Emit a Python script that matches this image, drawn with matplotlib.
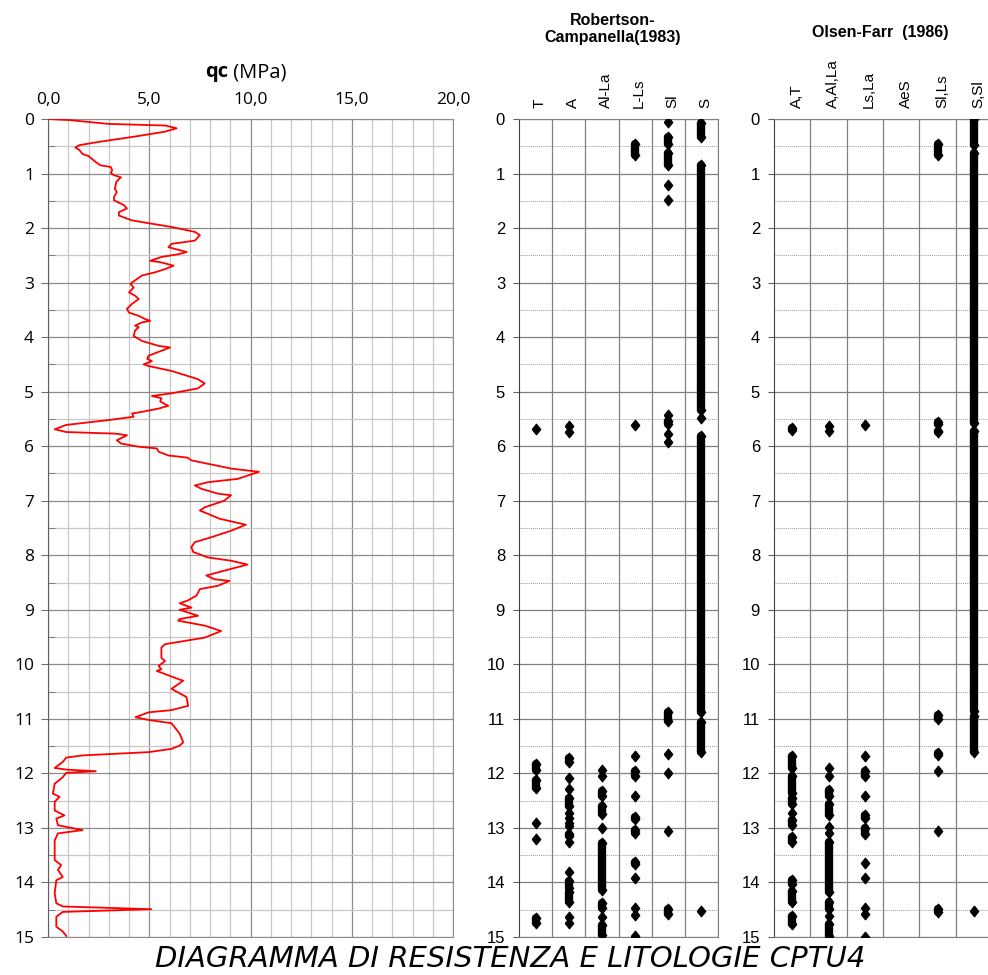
import matplotlib
matplotlib.use('Agg')
import matplotlib.pyplot as plt
from matplotlib.ticker import MultipleLocator, FuncFormatter
from matplotlib.transforms import blended_transform_factory

# CPT cone resistance profile: depth (m) and qc (MPa)
depth = [0.0, 0.02, 0.09, 0.12, 0.17, 0.23, 0.31, 0.42, 0.48, 0.52, 0.57, 0.64, 0.68,
         0.79, 0.85, 0.88, 0.94, 0.99, 1.03, 1.07, 1.15, 1.28, 1.34, 1.43, 1.49, 1.58,
         1.64, 1.71, 1.77, 1.86, 1.92, 1.98, 2.07, 2.13, 2.23, 2.29, 2.35, 2.44, 2.48,
         2.53, 2.6, 2.63, 2.69, 2.75, 2.81, 2.87, 2.96, 3.02, 3.09, 3.18, 3.24, 3.3,
         3.39, 3.48, 3.55, 3.61, 3.67, 3.7, 3.73, 3.79, 3.82, 3.88, 3.98, 4.07, 4.16,
         4.19, 4.25, 4.34, 4.4, 4.44, 4.5, 4.53, 4.62, 4.77, 4.85, 4.94, 5.03, 5.08,
         5.12, 5.18, 5.26, 5.31, 5.37, 5.4, 5.46, 5.52, 5.61, 5.69, 5.74, 5.77, 5.8,
         5.89, 5.95, 6.01, 6.04, 6.1, 6.17, 6.21, 6.26, 6.41, 6.47, 6.6, 6.66, 6.72,
         6.78, 6.87, 6.9, 7.0, 7.12, 7.18, 7.24, 7.33, 7.44, 7.55, 7.67, 7.76, 7.85,
         7.94, 8.04, 8.1, 8.17, 8.25, 8.37, 8.44, 8.47, 8.56, 8.62, 8.74, 8.83, 8.88,
         8.96, 9.0, 9.11, 9.17, 9.2, 9.29, 9.39, 9.51, 9.57, 9.63, 9.69, 9.88, 9.94,
         10.03, 10.09, 10.12, 10.28, 10.3, 10.45, 10.6, 10.76, 10.84, 10.88, 10.97,
         11.02, 11.08, 11.27, 11.43, 11.49, 11.55, 11.61, 11.67, 11.71, 11.79, 11.9,
         11.93, 11.96, 11.99, 12.07, 12.19, 12.37, 12.43, 12.52, 12.68, 12.77, 12.83,
         12.95, 13.04, 13.1, 13.23, 13.59, 13.68, 13.77, 13.9, 13.96, 14.2, 14.38,
         14.44, 14.49, 14.54, 14.63, 14.81, 14.9, 14.98]
qc = [0.0, 1.06, 3.0, 5.8, 6.35, 5.8, 4.5, 2.5, 1.55, 1.35, 1.55, 1.7, 2.0,
      2.36, 2.6, 3.1, 3.17, 3.1, 3.26, 3.6, 3.38, 3.3, 3.4, 3.26, 3.26, 3.75,
      3.9, 3.5, 3.5, 4.15, 5.13, 6.1, 7.25, 7.5, 7.25, 6.1, 5.95, 6.85, 6.43,
      5.6, 5.05, 5.6, 6.2, 5.8, 5.3, 4.64, 4.3, 4.07, 4.23, 4.0, 4.3, 4.48,
      4.15, 3.9, 4.0, 4.48, 4.8, 5.05, 4.64, 4.3, 4.48, 4.3, 4.23, 4.64, 5.46,
      6.03, 5.6, 4.97, 4.9, 5.13, 4.72, 4.97, 6.1, 7.4, 7.74, 7.4, 6.1, 5.13,
      5.6, 5.54, 5.94, 5.46, 4.64, 4.15, 4.23, 3.0, 0.9, 0.33, 0.9, 3.34, 3.9,
      3.4, 3.6, 4.48, 5.37, 5.46, 5.94, 6.9, 7.08, 9.04, 10.42, 9.36, 7.9, 7.25,
      7.57, 8.39, 9.04, 8.7, 7.74, 7.5, 7.9, 8.47, 9.77, 9.04, 8.06, 7.25, 7.08,
      7.17, 7.9, 9.04, 9.85, 9.04, 7.82, 8.22, 8.96, 8.39, 7.5, 7.33, 6.9, 6.5,
      7.08, 6.5, 7.41, 6.5, 6.43, 7.74, 8.55, 7.74, 6.76, 5.78, 5.6, 5.6, 5.78,
      5.46, 5.6, 5.37, 6.5, 6.68, 6.1, 6.84, 6.92, 6.1, 4.97, 4.32,
      4.97, 6.1, 6.5, 6.68, 6.5, 6.1, 4.97, 1.71, 0.9, 0.73, 0.33,
      0.9, 2.36, 0.9, 0.73, 0.33, 0.24, 0.57, 0.33, 0.33, 0.81, 0.41,
      0.49, 1.71, 0.49, 0.33, 0.33, 0.65, 0.49, 0.73, 0.41, 0.33, 0.41,
      0.73, 5.1, 0.73, 0.41, 0.41, 0.73, 0.9]
water_depth = 1.0

# lithology hits as (top, bottom) depth runs per column
rc_columns = ['T', 'A', 'Al-La', 'L-Ls', 'Sl', 'S']
rc_T = [(5.69, 5.69), (11.83, 11.93), (12.12, 12.26), (12.91, 12.91), (13.21, 13.21),
        (14.66, 14.75)]
rc_A = [(5.63, 5.63), (5.74, 5.74), (11.71, 11.8), (12.08, 12.08), (12.29, 12.29),
        (12.45, 12.6), (12.72, 12.72), (12.82, 12.82), (12.91, 12.91), (12.97, 12.97),
        (13.12, 13.15), (13.25, 13.25), (13.8, 13.8), (13.98, 14.1), (14.17, 14.35),
        (14.63, 14.63), (14.75, 14.75)]
rc_AlLa = [(11.93, 11.93), (12.05, 12.05), (12.33, 12.42), (12.6, 12.75), (13.0, 13.0),
           (13.28, 14.13), (14.38, 14.47), (14.63, 14.63), (14.78, 14.96)]
rc_LLs = [(0.45, 0.66), (5.61, 5.61), (11.69, 11.69), (11.96, 12.05), (12.42, 12.42),
          (12.8, 12.84), (13.03, 13.09), (13.62, 13.67), (13.92, 13.92), (14.47, 14.47),
          (14.6, 14.6), (14.99, 14.99)]
rc_Sl = [(0.05, 0.05), (0.33, 0.45), (0.63, 0.85), (1.21, 1.21), (1.48, 1.48),
         (5.42, 5.42), (5.54, 5.59), (5.77, 5.77), (5.92, 5.92), (10.88, 11.03),
         (11.65, 11.65), (11.99, 11.99), (13.06, 13.06), (14.49, 14.58)]
rc_S = [(0.08, 0.33), (0.85, 5.33), (5.49, 5.49), (5.82, 10.88), (11.06, 11.6),
        (14.52, 14.52)]

of_columns = ['A,T', 'A,Al,La', 'Ls,La', 'AeS', 'Sl,Ls', 'S,Sl']
of_AT = [(5.66, 5.71), (11.68, 11.9), (12.05, 12.36), (12.45, 12.57), (12.73, 12.73),
         (12.85, 12.94), (13.16, 13.25), (13.96, 14.02), (14.15, 14.36), (14.61, 14.77)]
of_AAlLa = [(5.63, 5.63), (5.73, 5.73), (11.91, 11.91), (12.05, 12.05), (12.3, 12.42),
            (12.57, 12.76), (12.98, 12.98), (13.1, 13.1), (13.25, 14.18), (14.36, 14.49),
            (14.61, 14.61), (14.77, 14.98)]
of_LsLa = [(5.61, 5.61), (11.68, 11.68), (11.96, 12.05), (12.41, 12.41), (12.77, 12.82),
           (13.0, 13.11), (13.64, 13.64), (13.91, 13.91), (14.46, 14.46), (14.58, 14.58),
           (15.0, 15.0)]
of_AeS = []
of_SlLs = [(0.45, 0.66), (5.55, 5.59), (5.72, 5.74), (10.93, 11.0), (11.62, 11.67),
           (11.96, 11.96), (13.05, 13.05), (14.49, 14.55)]
of_SSl = [(0.0, 0.48), (0.63, 5.57), (5.72, 10.86), (10.95, 11.6), (14.52, 14.52)]

W, H = 988, 975
fig = plt.figure(figsize=(W / 100, H / 100), dpi=100)

def box(x0, x1, y0=119, y1=937):
    return [x0 / W, 1 - y1 / H, (x1 - x0) / W, (y1 - y0) / H]

diamond = [(-0.8, 0), (0, 1), (0.8, 0), (0, -1), (-0.8, 0)]

# ---- qc panel
ax = fig.add_axes(box(48, 453))
ax.plot(qc, depth, color='#ff0000', lw=1.3, zorder=3)
ax.plot([0, 20], [water_depth, water_depth], color='#2e75b6', lw=2.9,
        dashes=(0, 2.2), dash_capstyle='round', zorder=4)
ax.set_xlim(0, 20)
ax.set_ylim(15, 0)
ax.xaxis.tick_top()
ax.xaxis.set_major_locator(MultipleLocator(5))
ax.xaxis.set_minor_locator(MultipleLocator(1))
ax.yaxis.set_major_locator(MultipleLocator(1))
ax.yaxis.set_minor_locator(MultipleLocator(0.5))
ax.xaxis.set_major_formatter(FuncFormatter(lambda v, p: f'{v:.1f}'.replace('.', ',')))
ax.grid(which='minor', color='#c8c8c8', lw=0.9)
ax.grid(which='major', color='#8c8c8c', lw=0.9)
ax.set_axisbelow(True)
ax.tick_params(axis='x', which='both', length=0, pad=8)
ax.tick_params(axis='y', which='major', length=5, color='#707070', pad=5)
ax.tick_params(axis='y', which='minor', length=5, color='#707070', direction='in')
for lab in ax.get_xticklabels() + ax.get_yticklabels():
    lab.set_fontfamily('Open Sans')
    lab.set_fontsize(12.5)
for s in ax.spines.values():
    s.set_color('#8c8c8c')
ax.spines['left'].set_color('#606060')
ax.text(0.445, 1.057, 'qc', transform=ax.transAxes, ha='right', va='center',
        fontsize=14.5, fontweight='bold', family='Open Sans')
ax.text(0.445, 1.057, ' (MPa)', transform=ax.transAxes, ha='left', va='center',
        fontsize=14.5, family='Open Sans')

# ---- lithology panels
def litho(rect, columns, hits, head, head_x, head_y):
    a = fig.add_axes(rect)
    for i, runs in enumerate(hits):
        for top, bot in runs:
            if bot > top:
                a.plot([i, i], [top, bot], color='black', lw=6,
                       solid_capstyle='round', zorder=3)
                a.plot([i, i], [top, bot], ls='none', marker=diamond, ms=7.5,
                       color='black', zorder=3)
            else:
                a.plot(i, top, ls='none', marker=diamond, ms=7.5, color='black', zorder=3)
    a.set_xlim(-0.5, len(columns) - 0.5)
    a.set_ylim(15, 0)
    a.set_xticks([])
    a.yaxis.set_major_locator(MultipleLocator(1))
    for d in range(16):
        a.axhline(d, color='#808080', lw=0.9, zorder=1)
        a.axhline(d + 0.5, color='#9a9a9a', lw=0.7, ls=(0, (1, 1)), zorder=1)
    for k in range(len(columns)):
        a.axvline(k + 0.5, color='#808080', lw=0.9, zorder=1)
    a.tick_params(axis='y', length=4, color='#606060', pad=6, labelsize=12)
    for lab in a.get_yticklabels():
        lab.set_fontfamily('Liberation Sans')
    for s in a.spines.values():
        s.set_color('#808080')
    a.spines['left'].set_color('#404040')
    tr = blended_transform_factory(a.transData, a.transAxes)
    for i, name in enumerate(columns):
        a.text(i + 0.12, 1.013, name, transform=tr, rotation=90, ha='center',
               va='bottom', fontsize=11, family='Liberation Sans')
    fig.text(head_x / W, 1 - head_y / H, head, ha='center', va='center',
             fontsize=11.5, fontweight='bold', family='Liberation Sans',
             linespacing=1.1)
    return a

litho(box(519, 718), rc_columns, [rc_T, rc_A, rc_AlLa, rc_LLs, rc_Sl, rc_S],
      'Robertson-\nCampanella(1983)', 613, 29)
litho(box(774, 992), of_columns, [of_AT, of_AAlLa, of_LsLa, of_AeS, of_SlLs, of_SSl],
      'Olsen-Farr  (1986)', 880, 33)

fig.text(510 / W, 1 - 959 / H, 'DIAGRAMMA DI RESISTENZA E LITOLOGIE CPTU4',
         ha='center', va='center', fontsize=21, style='italic', family='DejaVu Sans')

fig.savefig('out.png', dpi=100, facecolor='white')
